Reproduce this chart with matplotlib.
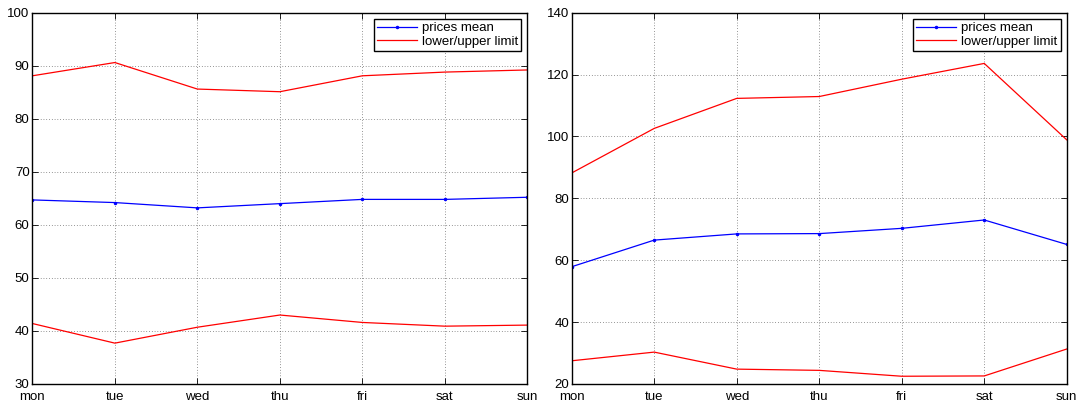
import matplotlib
matplotlib.use("Agg")
import matplotlib.pyplot as plt

days = ["mon", "tue", "wed", "thu", "fri", "sat", "sun"]

# left panel
mean_a  = [64.7, 64.2, 63.2, 64.0, 64.8, 64.8, 65.2]
upper_a = [88.1, 90.6, 85.6, 85.1, 88.1, 88.8, 89.2]
lower_a = [41.4, 37.7, 40.7, 43.0, 41.6, 40.9, 41.1]

# right panel
mean_b  = [57.9, 66.5, 68.5, 68.6, 70.3, 73.0, 65.1]
upper_b = [88.2, 102.6, 112.3, 112.9, 118.5, 123.6, 98.9]
lower_b = [27.5, 30.3, 24.8, 24.4, 22.5, 22.6, 31.3]

plt.rcParams["font.family"] = ["Liberation Sans", "DejaVu Sans"]
plt.rcParams["font.size"] = 9

fig = plt.figure(figsize=(10.82, 4.05), dpi=100)


def draw(ax, mean, upper, lower, ylim, yticks):
    x = list(range(len(days)))
    ax.plot(x, mean, color="blue", lw=0.9, marker=".", markersize=3,
            label="prices mean")
    ax.plot(x, upper, color="red", lw=0.9, label="lower/upper limit")
    ax.plot(x, lower, color="red", lw=0.9)
    ax.set_xlim(0, len(days) - 1)
    ax.set_ylim(*ylim)
    ax.set_xticks(x)
    ax.set_xticklabels(days)
    ax.set_yticks(yticks)
    ax.tick_params(direction="in", top=True, right=True, length=4,
                   width=0.6, labelsize=9.5, colors="black")
    ax.tick_params(axis="x", pad=5)
    ax.tick_params(axis="y", pad=2)
    ax.grid(True, linestyle=(0, (1, 3)), color="black", lw=0.5, alpha=0.8)
    for s in ax.spines.values():
        s.set_linewidth(1.0)
    leg = ax.legend(loc="upper right", fontsize=9.5, fancybox=False,
                    framealpha=1, edgecolor="black", handlelength=3.0,
                    handletextpad=0.4, borderpad=0.25, labelspacing=0.1,
                    borderaxespad=0.45)
    leg.get_frame().set_linewidth(1.0)


ax1 = fig.add_axes([0.0299, 0.0519, 0.4575, 0.9168])
draw(ax1, mean_a, upper_a, lower_a, (30, 100), range(30, 101, 10))

ax2 = fig.add_axes([0.5284, 0.0519, 0.4575, 0.9168])
draw(ax2, mean_b, upper_b, lower_b, (20, 140), range(20, 141, 20))

fig.savefig("out.png", dpi=100)
